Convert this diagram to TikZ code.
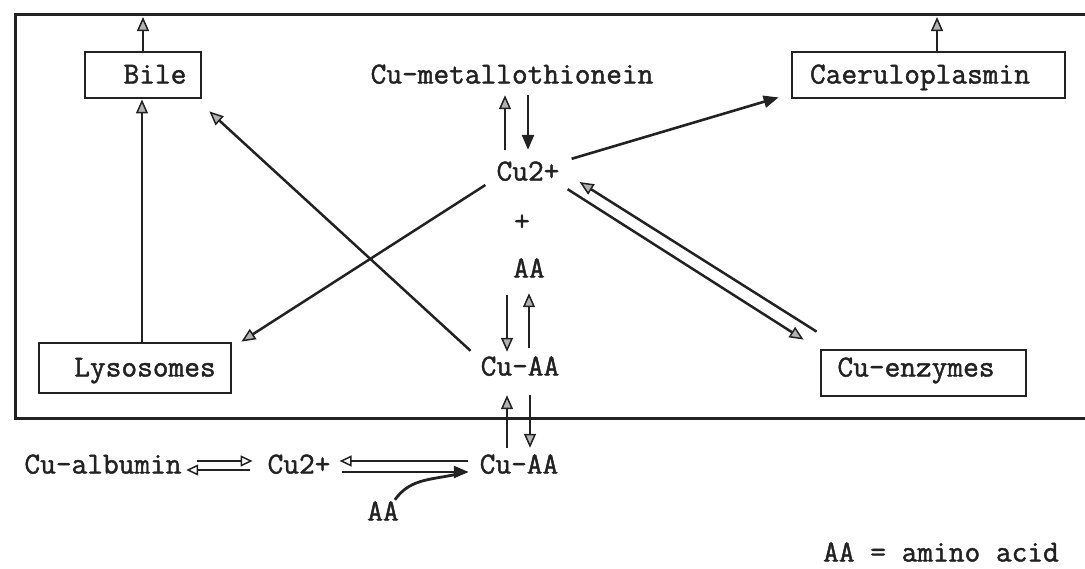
\documentclass[tikz,border=0pt]{standalone}
\usepackage{fontspec}
\usetikzlibrary{arrows.meta}
\definecolor{ink}{HTML}{222222}
\newfontfamily\typefont[FakeBold=1.5]{Latin Modern Mono}
\begin{document}
\begin{tikzpicture}[x=1pt,y=-1pt,
  lbl/.style={font=\fontsize{30.5}{36}\selectfont\typefont, text=ink, inner sep=0pt, text height=17pt, text depth=0pt},
  boxnode/.style={draw=ink, line width=2.8pt, inner sep=0pt},
  frameline/.style={draw=ink, line width=3pt},
  arr/.style={draw=ink, line width=2.5pt, -{Triangle[length=14pt,width=12pt,fill=gray!60,line width=1.5pt]}},
  arrblack/.style={draw=ink, line width=2.6pt, -{Triangle[length=15pt,width=12pt,fill=ink]}},
  arropen/.style={draw=ink, line width=2.2pt, -{Triangle[open,length=12pt,width=11pt,line width=1.5pt]}}
]
\useasboundingbox (0,0) rectangle (1085,568);
% frame
\coordinate (ftr) at (1085,14);
\coordinate (ftl) at (15,14);
\coordinate (fbl) at (15,418);
\coordinate (fbr) at (1085,418);
\draw[frameline] (ftr) -- (ftl) -- (fbl) -- (fbr);
% boxes
\node[boxnode, minimum width=116pt, minimum height=46pt] (bile) at (143,75) {};
\node[lbl] (biletxt) at (155,75) {Bile};
\node[boxnode, minimum width=273pt, minimum height=46pt] (caer) at (928.5,75) {};
\node[lbl] (caertxt) at (920,75) {Caeruloplasmin};
\node[boxnode, minimum width=192pt, minimum height=50pt] (lyso) at (135,368) {};
\node[lbl] (lysotxt) at (145,368) {Lysosomes};
\node[boxnode, minimum width=205pt, minimum height=46pt] (enz) at (923.5,373) {};
\node[lbl] (enztxt) at (916,368) {Cu-enzymes};
% labels
\node[lbl] (mt) at (512,75) {Cu-metallothionein};
\node[lbl] (cu1) at (528,172) {Cu2+};
\node[lbl] (plus) at (522,222) {+};
\node[lbl] (aa1) at (529,269) {AA};
\node[lbl] (cuaa1) at (520,367) {Cu-AA};
\node[lbl] (alb) at (103,465) {Cu-albumin};
\node[lbl] (cu2) at (299,465) {Cu2+};
\node[lbl] (cuaa2) at (519,465) {Cu-AA};
\node[lbl] (aa2) at (383,512) {AA};
\node[lbl] (note) at (941,553) {AA = amino acid};
% free ends
\coordinate (bileout) at (143,17);
\coordinate (caerout) at (937,17);
% arrows
\draw[arr] (bile.north) -- (bileout);
\draw[arr] ([xshift=8.5pt]caer.north) -- (caerout);
\draw[arr] ([xshift=7pt]lyso.north) -- ([xshift=-1pt]bile.south);
\draw[arr] ([xshift=-11pt,yshift=-13pt]cu1.west) -- ([xshift=9pt]lyso.north east);
\draw[arr] ([xshift=-10pt,yshift=7.5pt]cuaa1.north west) -- ([xshift=7pt,yshift=-12pt]bile.south east);
\draw[arrblack] ([xshift=12pt,yshift=4.5pt]cu1.north east) -- ([xshift=-12pt,yshift=2pt]caer.south west);
% metallothionein pair
\draw[arr] ([xshift=-23pt,yshift=13.5pt]cu1.north) -- ([xshift=-7pt,yshift=-11.5pt]mt.south);
\draw[arrblack] ([xshift=16pt,yshift=-11.5pt]mt.south) -- ([yshift=13.5pt]cu1.north);
% enzymes pair
\draw[arr] ([xshift=-3pt,yshift=17pt]enz.north west) -- ([xshift=20pt,yshift=-10pt]cu1.east);
\draw[arr] ([xshift=8pt,yshift=-8.5pt]cu1.south east) -- ([xshift=-16pt,yshift=9pt]enz.north west);
% AA / Cu-AA pair
\draw[arr] ([xshift=-22pt,yshift=-17.5pt]aa1.south) -- ([xshift=-13pt,yshift=6.5pt]cuaa1.north);
\draw[arr] ([xshift=9pt,yshift=10.5pt]cuaa1.north) -- ([yshift=-15.5pt]aa1.south);
% Cu-AA inner / outer pair
\draw[arr] ([xshift=-12pt,yshift=8.5pt]cuaa2.north) -- ([xshift=-13pt,yshift=-19.5pt]cuaa1.south);
\draw[arr] ([xshift=10pt,yshift=-19.5pt]cuaa1.south) -- ([xshift=11pt,yshift=8.5pt]cuaa2.north);
% Cu2+ / Cu-AA lower pair
\draw[arropen] ([xshift=-11.75pt,yshift=4pt]cuaa2.west) -- ([xshift=9pt,yshift=4pt]cu2.east);
\draw[arrblack] ([xshift=11pt,yshift=-7pt]cu2.east) -- ([xshift=-10.75pt,yshift=-7pt]cuaa2.west);
\draw[draw=ink, line width=2.8pt] ([xshift=-4pt,yshift=3.5pt]aa2.north east) to[out=55,in=195] ([xshift=-18pt,yshift=-8pt]cuaa2.west);
% albumin pair
\draw[arropen] ([xshift=15.5pt,yshift=4pt]alb.east) -- ([xshift=-14.8pt,yshift=4pt]cu2.west);
\draw[arropen] ([xshift=-17.8pt,yshift=-5pt]cu2.west) -- ([xshift=4.5pt,yshift=-5pt]alb.east);
\end{tikzpicture}
\end{document}
